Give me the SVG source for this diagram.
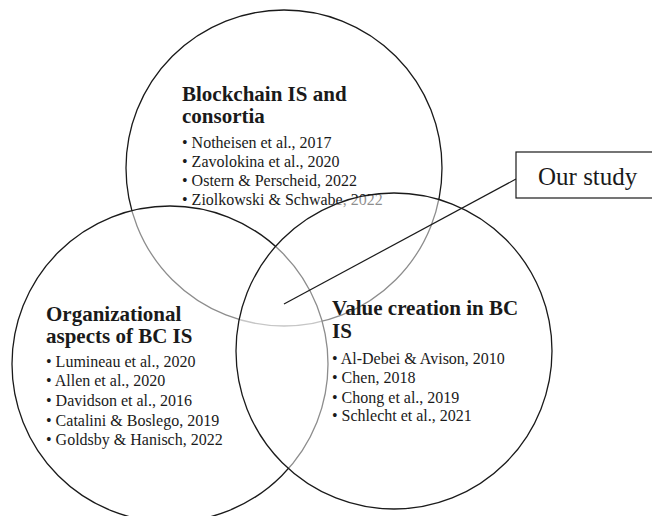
<svg xmlns="http://www.w3.org/2000/svg" width="652" height="516" viewBox="0 0 652 516">
  <style>
    .set { fill: #ffffff; fill-opacity: 0.5; stroke: #1a1a1a; stroke-width: 1.3; }
    .title { font-family: "Liberation Serif", "Times New Roman", serif; font-size: 21px; font-weight: bold; fill: #1a1a1a; }
    .item { font-family: "Liberation Serif", "Times New Roman", serif; font-size: 16px; fill: #1a1a1a; }
    .callout { fill: #ffffff; stroke: #1a1a1a; stroke-width: 1.2; }
    .callout-text { font-family: "Liberation Serif", "Times New Roman", serif; font-size: 25px; fill: #1a1a1a; }
    .link { stroke: #1a1a1a; stroke-width: 1.2; fill: none; }
  </style>
  <rect width="652" height="516" fill="#ffffff"/>

  <!-- Set 1: Blockchain IS and consortia -->
  <g id="blockchain-is">
    <circle class="set" cx="284" cy="168" r="158"/>
    <text class="title" x="182" y="101">Blockchain IS and</text>
    <text class="title" x="182" y="123">consortia</text>
    <text class="item" x="182" y="148">• Notheisen et al., 2017</text>
    <text class="item" x="182" y="167">• Zavolokina et al., 2020</text>
    <text class="item" x="182" y="186">• Ostern &amp; Perscheid, 2022</text>
    <text class="item" x="182" y="205">• Ziolkowski &amp; Schwabe, 2022</text>
  </g>

  <!-- Set 2: Organizational aspects of BC IS -->
  <g id="organizational-aspects">
    <circle class="set" cx="170" cy="364" r="158"/>
    <text class="title" x="46" y="321">Organizational</text>
    <text class="title" x="46" y="343">aspects of BC IS</text>
    <text class="item" x="46" y="367">• Lumineau et al., 2020</text>
    <text class="item" x="46" y="386">• Allen et al., 2020</text>
    <text class="item" x="46" y="406">• Davidson et al., 2016</text>
    <text class="item" x="46" y="426">• Catalini &amp; Boslego, 2019</text>
    <text class="item" x="46" y="445">• Goldsby &amp; Hanisch, 2022</text>
  </g>

  <!-- Set 3: Value creation in BC IS -->
  <g id="value-creation">
    <circle class="set" cx="394" cy="351" r="158"/>
    <text class="title" x="332" y="315">Value creation in BC</text>
    <text class="title" x="332" y="338">IS</text>
    <text class="item" x="332" y="364">• Al-Debei &amp; Avison, 2010</text>
    <text class="item" x="332" y="383">• Chen, 2018</text>
    <text class="item" x="332" y="403">• Chong et al., 2019</text>
    <text class="item" x="332" y="421">• Schlecht et al., 2021</text>
  </g>

  <!-- Connector from the triple intersection to the callout -->
  <g id="connectors">
    <line class="link" x1="284" y1="304" x2="516" y2="179"/>
  </g>

  <!-- Callout box -->
  <g id="our-study">
    <rect class="callout" x="516" y="152" width="150" height="46"/>
    <text class="callout-text" x="538" y="185">Our study</text>
  </g>
</svg>
